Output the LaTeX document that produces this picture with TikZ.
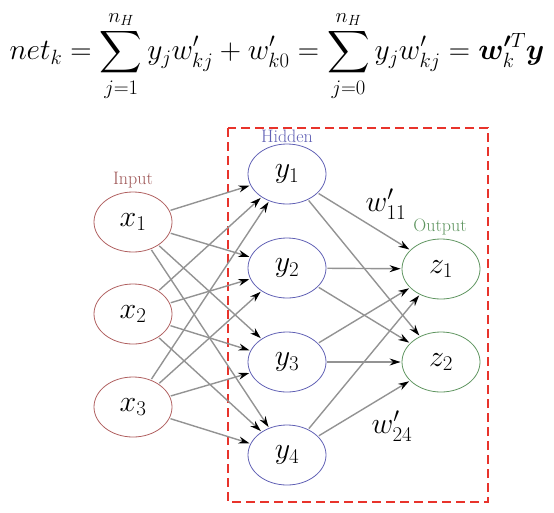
\documentclass[tikz,border=0pt]{standalone}
\usepackage{fix-cm}
\usepackage{amsmath,amssymb,bm}
\usepackage{tikz}
\usetikzlibrary{shapes,arrows.meta,positioning}
\usepackage{xcolor}
\definecolor{inred}{HTML}{B06060}
\definecolor{hidblue}{HTML}{6060B4}
\definecolor{outgreen}{HTML}{5F9560}
\definecolor{boxred}{HTML}{E8332B}

\tikzset{
  neuron/.style={ellipse, draw, thick, minimum width=78pt, minimum height=60pt,
    inner sep=0pt, font=\fontsize{30}{34}\selectfont},
  layertag/.style={font=\fontsize{18}{20}\selectfont},
  conn/.style={draw=gray!85, line width=1.4pt, shorten >=1pt, shorten <=1pt,
    -{Stealth[black, length=11pt, width=7pt]}}
}

\begin{document}
\begin{tikzpicture}[x=1pt, y=-1pt]
    \useasboundingbox (0,0) rectangle (554,512);
    \node[inner sep=1pt] (eq) at (277,56) {\fontsize{29.5}{34}\selectfont
      $\displaystyle net_k=\sum_{j=1}^{n_H} y_j w'_{kj}+w'_{k0}
       =\sum_{j=0}^{n_H} y_j w'_{kj}=\bm{w'}^{T}_{k}\bm{y}$};
    \draw[boxred, line width=1.8pt, dash pattern=on 9pt off 5pt] (228,128) rectangle (488,502);
    % layers
    \node[neuron, draw=inred] (x1) at (133,222) {$x_1$};
    \node[neuron, draw=inred] (x2) at (133,314) {$x_2$};
    \node[neuron, draw=inred] (x3) at (133,407) {$x_3$};
    \node[neuron, draw=hidblue] (y1) at (287,174) {$y_1$};
    \node[neuron, draw=hidblue] (y2) at (287,268) {$y_2$};
    \node[neuron, draw=hidblue] (y3) at (287,362) {$y_3$};
    \node[neuron, draw=hidblue] (y4) at (287,455) {$y_4$};
    \node[neuron, draw=outgreen] (z1) at (441,269) {$z_1$};
    \node[neuron, draw=outgreen] (z2) at (441,362) {$z_2$};
    \node[layertag, inred!90!black] (intag) at (133,180) {Input};
    \node[layertag, hidblue] (hidtag) at (287,136) {Hidden};
    \node[layertag, outgreen] (outtag) at (440,227) {Output};
    % weights
    \foreach \i in {1,2,3}
      \foreach \j in {1,2,3,4}
        \draw[conn] (x\i) -- (y\j);
    \foreach \j in {1,2,3,4}
      \foreach \k in {1,2}
        \draw[conn] (y\j) -- (z\k);
    \node[font=\fontsize{30}{34}\selectfont] (w11) at (386,204) {$w'_{11}$};
    \node[font=\fontsize{30}{34}\selectfont] (w24) at (392,426) {$w'_{24}$};
\end{tikzpicture}
\end{document}
